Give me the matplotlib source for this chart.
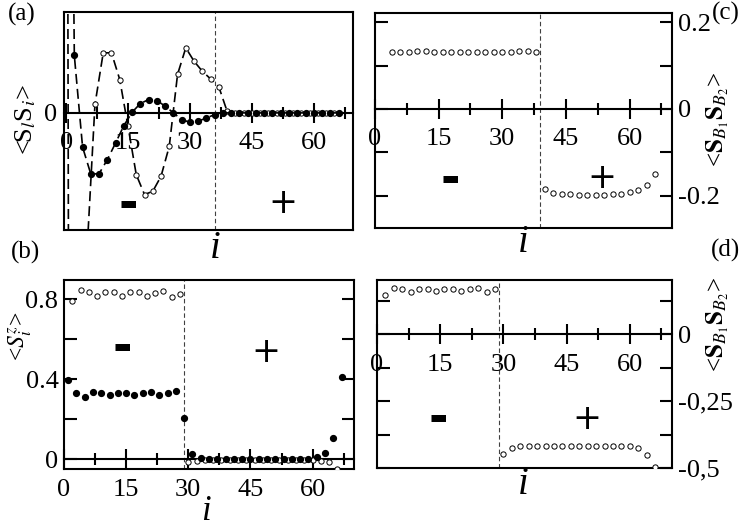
import numpy as np
import matplotlib
matplotlib.use('Agg')
import matplotlib.pyplot as plt

plt.rcParams['font.family'] = ['Liberation Serif', 'DejaVu Serif']
plt.rcParams['mathtext.fontset'] = 'stix'
plt.rcParams['axes.unicode_minus'] = False

# ---------------- data ----------------
# panel (a): <S_l S_i>
a_filled_x = np.arange(0, 67, 2)
a_filled_y = [0.75, 0.0478, -0.0285, -0.0510, -0.0506, -0.0389, -0.0250, -0.0106,
              0.0006, 0.0078, 0.0111, 0.0103, 0.0056, 0.0, -0.0056, -0.0078,
              -0.0069, -0.0042, -0.0014,
              0, 0, 0, 0, 0, 0, 0, 0, 0, 0, 0, 0, 0, 0, 0]
a_open_x = np.concatenate([[0], np.arange(1, 66, 2)])
a_open_y = [0.75, -0.75, -0.40, -0.12, 0.0070, 0.0500, 0.0500, 0.0278, -0.0111,
            -0.0514, -0.0680, -0.0653, -0.0528, -0.0278, 0.0320, 0.0542,
            0.0430, 0.0347, 0.0283, 0.0217, 0.0014,
            0, 0, 0, 0, 0, 0, 0, 0, 0, 0, 0, 0, 0]
a_sep = 36

# panel (b): <S^z_i>
b_open_x = np.arange(2, 67, 2)
b_open_y = [0.790, 0.847, 0.835, 0.818, 0.835, 0.835, 0.818, 0.835, 0.835, 0.818,
            0.830, 0.842, 0.813, 0.828,
            -0.015, -0.008,
            -0.002, -0.002, -0.002, -0.002, -0.002, -0.002, -0.002, -0.002,
            -0.002, -0.002, -0.002, -0.002, -0.002, -0.002,
            -0.007, -0.012, -0.048]
b_filled_x = np.arange(1, 68, 2)
b_filled_y = [0.397, 0.333, 0.313, 0.338, 0.333, 0.322, 0.333, 0.333, 0.322, 0.330,
              0.335, 0.322, 0.330, 0.343, 0.205,
              0.025, 0.008,
              0.002, 0.002, 0.002, 0.002, 0.002, 0.002, 0.002, 0.002, 0.002,
              0.002, 0.002, 0.002, 0.002,
              0.010, 0.033, 0.108, 0.410]
b_sep = 29

# panel (c): <S_B1 S_B2>
c_x = np.arange(4, 67, 2)
c_y = [0.132, 0.131, 0.132, 0.134, 0.134, 0.132, 0.132, 0.131, 0.132, 0.132,
       0.132, 0.132, 0.131, 0.131, 0.132, 0.134, 0.134, 0.132,
       -0.185, -0.193, -0.197, -0.197, -0.198, -0.198, -0.198, -0.198,
       -0.197, -0.195, -0.192, -0.187, -0.175, -0.150]
c_sep = 39

# panel (d): <S_B1 S_B2>
d_x = np.arange(2, 67, 2)
d_y = [0.1475, 0.175, 0.170, 0.160, 0.170, 0.170, 0.1625, 0.169, 0.169, 0.1625,
       0.169, 0.1725, 0.1575, 0.169,
       -0.446, -0.424, -0.4175, -0.4175, -0.4175, -0.4175, -0.4175, -0.4175,
       -0.4175, -0.4175, -0.4175, -0.4175, -0.4175, -0.4175, -0.4175, -0.4175,
       -0.425, -0.4525, -0.496]
d_sep = 29

x_major = [0, 15, 30, 45, 60]
x_major_labels = ['0', '15', '30', '45', '60']
x_minor = [7.5, 22.5, 37.5, 52.5, 67.5]

b_yticks = [0, 0.2, 0.4, 0.6, 0.8]
b_ylabels = ['0', '', '0.4', '', '0.8']
c_yticks = [-0.2, -0.1, 0, 0.1, 0.2]
c_ylabels = ['-0.2', '', '0', '', '0.2']
d_yticks = [-0.5, -0.375, -0.25, -0.125, 0, 0.125]
d_ylabels = ['-0,5', '', '-0,25', '', '0', '']

# ---------------- figure ----------------
W, H = 747, 530
fig = plt.figure(figsize=(W / 100, H / 100), dpi=100)

TICK_FS = 19


def add_axes(l, t, r, b):
    return fig.add_axes([l / W, 1 - b / H, (r - l) / W, (b - t) / H])


def setup(ax, xlim, ylim):
    ax.set_xlim(*xlim)
    ax.set_ylim(*ylim)
    for s in ax.spines.values():
        s.set_linewidth(1.5)
    ax.spines['bottom'].set_position(('data', 0))
    ax.plot([0, 1], [0, 0], transform=ax.transAxes, color='k', lw=1.5,
            clip_on=False, solid_capstyle='projecting')
    ax.set_xticks(x_major)
    ax.set_xticklabels(x_major_labels)
    ax.set_xticks(x_minor, minor=True)
    ax.tick_params(axis='x', which='major', direction='inout', length=14,
                   width=1.5, pad=7, labelsize=TICK_FS)
    ax.tick_params(axis='x', which='minor', direction='inout', length=9,
                   width=1.5)


def sep_line(ax, x):
    ax.axvline(x, color='0.25', lw=0.8, ls=(0, (4, 2.5)), zorder=1)


def signs(ax, xm, ym, xp, yp):
    ax.text(xm, ym, '-', family='DejaVu Sans', fontweight='bold', fontsize=34,
            ha='center', va='center')
    ax.text(xp, yp, '+', family='DejaVu Sans', fontsize=25, ha='center',
            va='center')


ms_f = 4.2
ms_o = 3.8
open_kw = dict(ls='none', marker='o', ms=ms_o, mfc='white', mec='black', mew=0.7,
               zorder=3)
fill_kw = dict(ls='none', marker='o', ms=ms_f, mfc='black', mec='black', zorder=3)

# (a)
axa = add_axes(64, 12, 353, 230)
setup(axa, (-0.5, 69.5), (-0.0975, 0.084))
sep_line(axa, a_sep)
axa.plot(a_open_x, a_open_y, color='black', lw=1.2, ls=(0, (6, 3)),
         marker='o', ms=ms_o, mfc='white', mec='black', mew=0.7, zorder=3)
axa.plot(a_filled_x, a_filled_y, color='black', lw=1.2, ls=(0, (6, 3)),
         marker='o', ms=ms_f, mfc='black', mec='black', zorder=3)
axa.set_yticks([0])
axa.set_yticklabels(['0'])
axa.tick_params(axis='y', length=0, pad=5, labelsize=TICK_FS)
signs(axa, 15, -0.0767, 52.5, -0.075)

# (c)
axc = add_axes(375, 13, 672, 228)
setup(axc, (0, 70), (-0.2746, 0.2215))
sep_line(axc, c_sep)
axc.plot(c_x, c_y, **open_kw)
axc.set_yticks(c_yticks)
axc.set_yticklabels(c_ylabels)
axc.tick_params(axis='y', direction='in', left=True, right=True, labelleft=False,
                labelright=True, length=9, width=1.5, pad=4, labelsize=TICK_FS)
signs(axc, 17.7, -0.164, 53.5, -0.159)

# (b)
axb = add_axes(64, 280, 354, 469)
setup(axb, (0, 70), (-0.0485, 0.897))
sep_line(axb, b_sep)
axb.plot(b_open_x, b_open_y, **open_kw)
axb.plot(b_filled_x, b_filled_y, **fill_kw)
axb.set_yticks(b_yticks)
axb.set_yticklabels(b_ylabels)
axb.tick_params(axis='y', direction='in', left=True, right=True, length=9,
                width=1.5, pad=4, labelsize=TICK_FS)
signs(axb, 14.1, 0.556, 48.8, 0.536)

# (d)
axd = add_axes(377, 280, 672, 468)
setup(axd, (0, 70), (-0.5, 0.2036))
sep_line(axd, d_sep)
axd.plot(d_x, d_y, **open_kw)
axd.set_yticks(d_yticks)
axd.set_yticklabels(d_ylabels)
axd.tick_params(axis='y', direction='in', left=True, right=True, labelleft=False,
                labelright=True, length=9, width=1.5, pad=4, labelsize=TICK_FS)
signs(axd, 14.6, -0.318, 49.7, -0.318)

# ---------------- labels ----------------
def ftext(px, py, s, **kw):
    fig.text(px / W, 1 - py / H, s, ha='center', va='center', **kw)


ftext(22, 14, '(a)', fontsize=18)
ftext(25, 252, '(b)', fontsize=18)
ftext(726, 13, '(c)', fontsize=18)
ftext(726, 250, '(d)', fontsize=18)

ftext(215, 249, 'i', fontsize=28, style='italic')
ftext(206, 511, 'i', fontsize=25, style='italic')
ftext(523, 242, 'i', fontsize=28, style='italic')
ftext(523, 485, 'i', fontsize=28, style='italic')

ftext(26, 120, r'<S$_{l}$S$_{i}$>', fontsize=19, rotation=90)
ftext(20, 336, r'<$S^{z}_{i}$>', fontsize=17, rotation=90)
ftext(718, 120, r'<$\mathbf{S}_{B_{\mathit{1}}}\mathbf{S}_{B_{2}}$>', fontsize=18,
      rotation=90)
ftext(718, 325, r'<$\mathbf{S}_{B_{\mathit{1}}}\mathbf{S}_{B_{2}}$>', fontsize=18,
      rotation=90)

fig.savefig('out.png', dpi=100)
